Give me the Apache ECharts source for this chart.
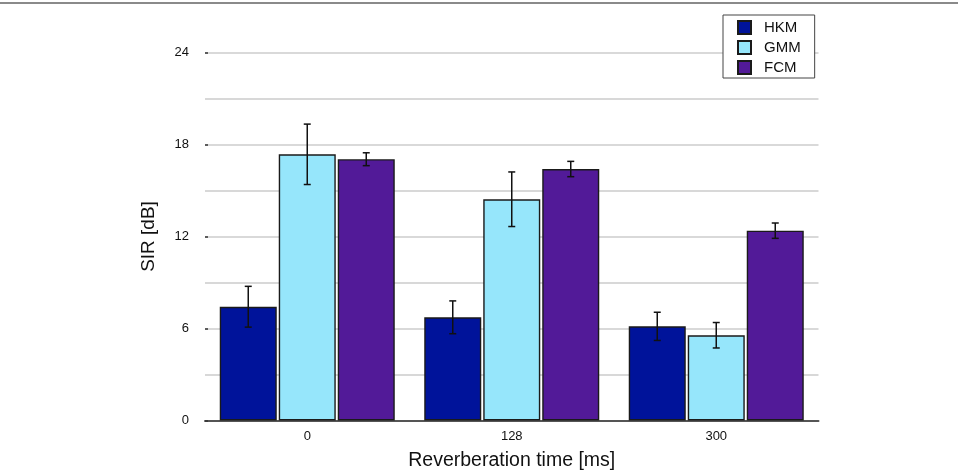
<!DOCTYPE html>
<html>
<head>
<meta charset="utf-8">
<script src="https://cdn.jsdelivr.net/npm/echarts@6/dist/echarts.min.js"></script>
<style>
  html, body { margin: 0; padding: 0; background: #fff; }
  #chart { width: 958px; height: 472px; }
</style>
</head>
<body>
<div id="chart"></div>
<script>
// reverberation times (x categories)
const categories = ['0', '128', '300'];
const seriesNames = ['HKM', 'GMM', 'FCM'];

// mean SIR per method
const hkm = [7.42, 6.73, 6.14];
const gmm = [17.36, 14.43, 5.56];
const fcm = [17.04, 16.40, 12.38];

// error bar half widths
const hkmErr = [1.33, 1.07, 0.92];
const gmmErr = [1.97, 1.78, 0.83];
const fcmErr = [0.42, 0.50, 0.50];

const colors = ['#00139a', '#96e6fb', '#521a98'];
const barW = 57;
const barGapPx = 2;

const chart = echarts.init(document.getElementById('chart'));

const values = [hkm, gmm, fcm];
const errs = [hkmErr, gmmErr, fcmErr];

const barSeries = seriesNames.map((name, i) => ({
    name: name,
    type: 'bar',
    barWidth: barW,
    barGap: (barGapPx / barW * 100) + '%',
    itemStyle: { color: colors[i], borderColor: '#1a1a1a', borderWidth: 1.4 },
    data: values[i]
}));

const errSeries = seriesNames.map((name, i) => ({
    type: 'custom',
    name: name + ' err',
    z: 5,
    silent: true,
    data: values[i].map((v, j) => [j, v + errs[i][j], v - errs[i][j]]),
    renderItem: function (params, api) {
        const off = (i - 1) * (barW + barGapPx);
        const hi = api.coord([api.value(0), api.value(1)]);
        const lo = api.coord([api.value(0), api.value(2)]);
        const x = hi[0] + off;
        const cap = 3.5;
        const style = { stroke: '#111', lineWidth: 1.5 };
        return {
            type: 'group',
            children: [
                { type: 'line', shape: { x1: x, y1: hi[1], x2: x, y2: lo[1] }, style: style },
                { type: 'line', shape: { x1: x - cap, y1: hi[1], x2: x + cap, y2: hi[1] }, style: style },
                { type: 'line', shape: { x1: x - cap, y1: lo[1], x2: x + cap, y2: lo[1] }, style: style }
            ]
        };
    }
}));

const option = {
    animation: false,
    backgroundColor: '#fff',
    textStyle: { fontFamily: 'Liberation Sans, Arial, sans-serif' },
    graphic: [{
        type: 'line',
        shape: { x1: 0, y1: 3, x2: 958, y2: 3 },
        style: { stroke: '#8a8a8a', lineWidth: 2 }
    }],
    legend: {
        data: seriesNames,
        orient: 'vertical',
        left: 723,
        top: 15,
        itemWidth: 13,
        itemHeight: 13,
        itemGap: 5,
        padding: [5, 14, 3, 14],
        icon: 'rect',
        backgroundColor: '#fff',
        borderColor: '#444',
        borderWidth: 1,
        textStyle: { fontSize: 15, color: '#111', padding: [0, 0, 0, 8] }
    },
    grid: { left: 205, right: 139.5, top: 52.5, bottom: 51.5, outerBoundsMode: 'none' },
    xAxis: {
        type: 'category',
        data: categories,
        name: 'Reverberation time [ms]',
        nameLocation: 'middle',
        nameGap: 30,
        nameTextStyle: { fontSize: 19.5, color: '#111' },
        axisTick: { show: false },
        axisLine: { lineStyle: { color: '#555', width: 2 } },
        axisLabel: { fontSize: 13, color: '#111', margin: 9 }
    },
    yAxis: {
        type: 'value',
        min: 0,
        max: 24,
        interval: 6,
        name: 'SIR [dB]',
        nameLocation: 'middle',
        nameGap: 47,
        nameTextStyle: { fontSize: 19, color: '#111' },
        axisLine: { show: false },
        axisTick: { show: true, inside: true, length: 3, lineStyle: { color: '#333', width: 1.5 } },
        axisLabel: { fontSize: 13, color: '#111', margin: 16 },
        splitLine: { lineStyle: { color: '#cccccc', width: 1.5 } },
        minorTick: { show: false, splitNumber: 2 },
        minorSplitLine: { show: true, lineStyle: { color: '#cccccc', width: 1.5 } }
    },
    series: barSeries.concat(errSeries)
};

chart.setOption(option);
</script>
</body>
</html>
